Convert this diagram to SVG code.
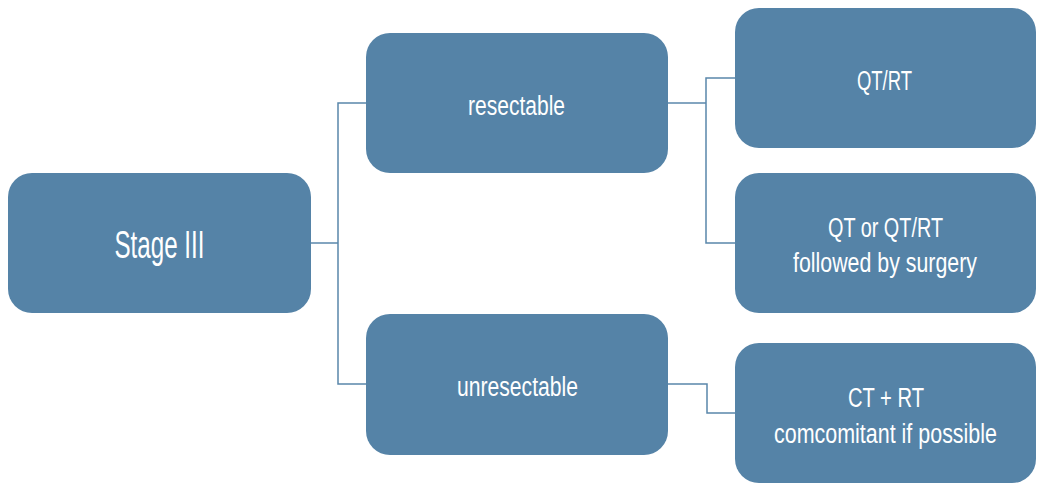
<svg xmlns="http://www.w3.org/2000/svg" width="1038" height="484" viewBox="0 0 1038 484">
<style>
.box{fill:#5583a7;}
.lbl{fill:#ffffff;font-family:"Liberation Sans",Arial,sans-serif;font-size:27px;text-anchor:middle;}
.big{font-size:38px;}
.con{fill:none;stroke:#5a87ab;stroke-width:1.5;}
</style>
<rect width="1038" height="484" fill="#ffffff"/>
<g id="connectors">
<polyline class="con" points="311,243 338,243"/>
<polyline class="con" points="366,103 338,103 338,384 366,384"/>
<polyline class="con" points="668,103 706,103"/>
<polyline class="con" points="735,78 706,78 706,243 735,243"/>
<polyline class="con" points="668,384 707,384 707,413 735,413"/>
</g>
<g id="stage3">
<rect class="box" x="8" y="173" width="303" height="140" rx="24"/>
<text class="lbl big" x="159.5" y="258" textLength="90" lengthAdjust="spacingAndGlyphs">Stage III</text>
</g>
<g id="resectable">
<rect class="box" x="366" y="33" width="302" height="140" rx="24"/>
<text class="lbl" x="516.5" y="115" textLength="97" lengthAdjust="spacingAndGlyphs">resectable</text>
</g>
<g id="unresectable">
<rect class="box" x="366" y="314" width="302" height="141" rx="24"/>
<text class="lbl" x="517.5" y="396" textLength="121" lengthAdjust="spacingAndGlyphs">unresectable</text>
</g>
<g id="qtrt">
<rect class="box" x="735" y="8" width="301" height="140" rx="24"/>
<text class="lbl" x="884.5" y="90" textLength="55" lengthAdjust="spacingAndGlyphs">QT/RT</text>
</g>
<g id="qtsurgery">
<rect class="box" x="735" y="173" width="301" height="140" rx="24"/>
<text class="lbl" x="885.5" y="237" textLength="115" lengthAdjust="spacingAndGlyphs">QT or QT/RT</text>
<text class="lbl" x="885" y="272" textLength="184" lengthAdjust="spacingAndGlyphs">followed by surgery</text>
</g>
<g id="ctrt">
<rect class="box" x="735" y="343" width="301" height="140" rx="24"/>
<text class="lbl" x="886" y="407" textLength="76" lengthAdjust="spacingAndGlyphs">CT + RT</text>
<text class="lbl" x="885.5" y="443" textLength="223" lengthAdjust="spacingAndGlyphs">comcomitant if possible</text>
</g>
</svg>
